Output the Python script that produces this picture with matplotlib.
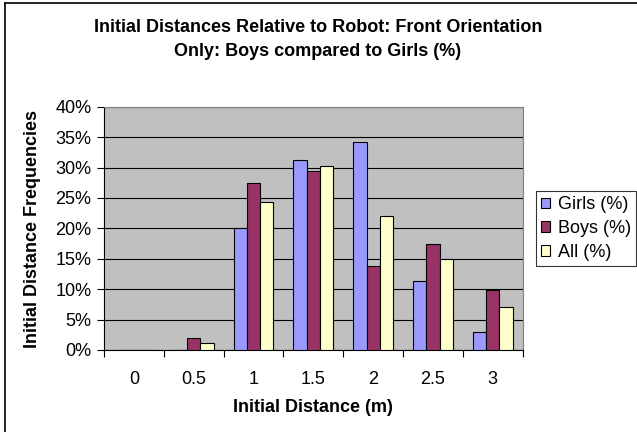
import matplotlib
matplotlib.use('Agg')
import matplotlib.pyplot as plt
import numpy as np
from matplotlib.lines import Line2D
from matplotlib.ticker import PercentFormatter, FixedLocator

plt.rcParams['font.family'] = ['Liberation Sans', 'DejaVu Sans']

# data (percent)
distances = ['0', '0.5', '1', '1.5', '2', '2.5', '3']
girls = [0, 0, 20.0, 31.3, 34.2, 11.3, 2.9]
boys = [0, 1.9, 27.5, 29.4, 13.8, 17.5, 9.8]
all_ = [0, 1.1, 24.4, 30.2, 22.1, 15.0, 7.0]
series = [('Girls (%)', girls, '#9999FF'),
          ('Boys (%)', boys, '#993366'),
          ('All (%)', all_, '#FFFFCC')]

W, H = 637, 432
fs = 13

fig = plt.figure(figsize=(W / 100, H / 100), dpi=100)
ax = fig.add_axes([104 / W, (H - 350) / H, (522.7 - 104) / W, (350 - 106.7) / H])
ax.set_facecolor('#C0C0C0')

x = np.arange(len(distances))
w = 1 / 4.5
for i, (name, vals, col) in enumerate(series):
    ax.bar(x + (i - 1) * w, vals, width=w, color=col, edgecolor='black',
           linewidth=0.8, label=name, zorder=3)

ax.set_xlim(-0.5, len(distances) - 0.5)
ax.set_ylim(0, 40)
ax.set_yticks(np.arange(0, 41, 5))
ax.yaxis.set_major_formatter(PercentFormatter(decimals=0))
ax.grid(axis='y', color='black', linewidth=0.8, zorder=1)

ax.set_xticks(x)
ax.set_xticklabels(distances)
ax.xaxis.set_minor_locator(FixedLocator(np.arange(-0.5, len(distances), 1)))
ax.tick_params(axis='x', which='major', length=0, pad=15, labelsize=fs)
ax.tick_params(axis='x', which='minor', length=5, direction='out', width=0.8)
ax.tick_params(axis='y', length=5, direction='out', width=0.8, labelsize=fs, pad=4)

for s in ['top', 'right']:
    ax.spines[s].set_color('#808080')
for s in ['left', 'bottom']:
    ax.spines[s].set_color('black')

fig.text(313 / W, 1 - 408 / H, 'Initial Distance (m)', ha='center', va='center',
         fontsize=fs, fontweight='bold')
fig.text(33 / W, 1 - 229 / H, 'Initial Distance Frequencies', ha='center', va='center',
         rotation=90, fontsize=fs, fontweight='bold')

fig.text(318 / W, 1 - 28 / H, 'Initial Distances Relative to Robot: Front Orientation',
         ha='center', va='center', fontsize=fs, fontweight='bold')
fig.text(318 / W, 1 - 52 / H, 'Only: Boys compared to Girls (%)',
         ha='center', va='center', fontsize=fs, fontweight='bold')

leg = ax.legend(loc='upper left', bbox_to_anchor=(536 / W, (H - 190.7) / H),
                bbox_transform=fig.transFigure, frameon=True, fancybox=False,
                fontsize=fs, handlelength=0.5, handleheight=0.5,
                handletextpad=0.4, borderpad=0.3, labelspacing=0.38,
                borderaxespad=0)
leg.get_frame().set_edgecolor('black')
leg.get_frame().set_linewidth(0.8)

# chart border (left and top visible in the crop)
fig.add_artist(Line2D([5 / W, 5 / W], [0, 1 - 3 / H], color='black', lw=1.2,
                      transform=fig.transFigure))
fig.add_artist(Line2D([5 / W, 1], [1 - 3 / H, 1 - 3 / H], color='black', lw=1.2,
                      transform=fig.transFigure))

fig.savefig('out.png', dpi=100)
